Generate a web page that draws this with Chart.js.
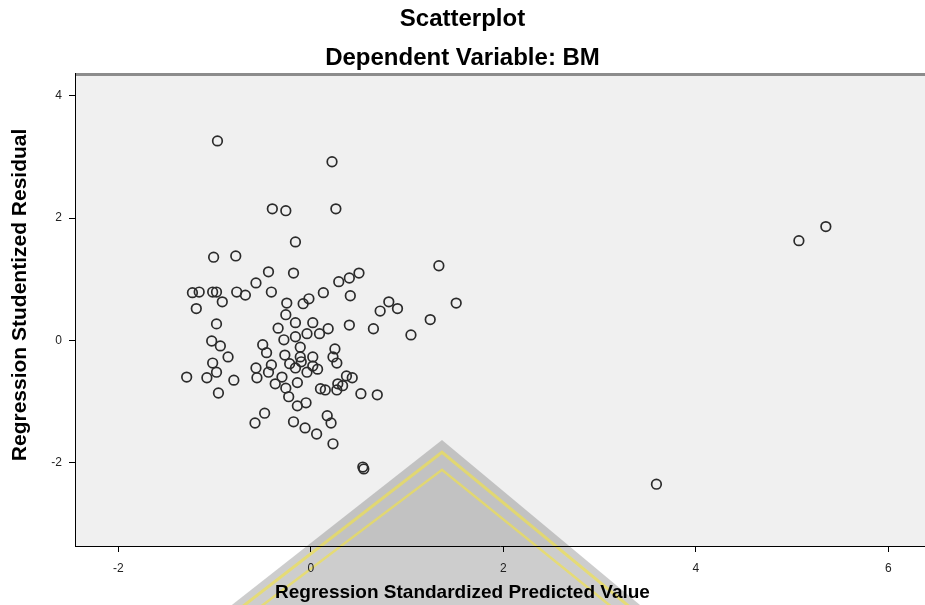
<!DOCTYPE html>
<html>
<head>
<meta charset="utf-8">
<title>Scatterplot</title>
<script src="https://cdn.jsdelivr.net/npm/chart.js@4/dist/chart.umd.min.js"></script>
<style>
  html, body { margin: 0; padding: 0; background: #ffffff; }
  #wrap { width: 925px; height: 605px; position: relative; }
</style>
</head>
<body>
<div id="wrap"><canvas id="chart"></canvas></div>
<script>
// Regression standardized predicted values (x) and studentized residuals (y)
const predicted = [
  -0.97, 0.22, -0.40, -0.26, 0.26, -0.16, -1.01, -0.78, 1.33, 5.07,
  5.35, 3.59, 0.54, 0.55, -0.44, -0.18, 0.50, 0.40, 0.29, -0.57,
  -1.23, -1.16, -1.02, -0.98, -0.77, -0.68, -0.41, 0.13, 0.41, -0.02,
  -0.08, -0.25, -0.92, -1.19, 0.81, 0.72, 0.90, 1.51, -0.26, -0.98,
  -0.16, 0.02, -0.34, 0.18, 0.40, 0.65, 1.24, 1.04, -0.04, 0.09,
  -0.16, -0.28, -1.03, -0.50, -0.94, -0.86, -1.02, -0.98, -1.29, -1.08,
  -0.80, -0.96, -0.46, -0.27, -0.11, -0.11, 0.02, 0.25, 0.23, 0.27,
  -0.57, -0.56, -0.41, -0.44, -0.22, -0.16, -0.10, -0.04, 0.02, 0.07,
  -0.30, -0.37, -0.26, -0.14, 0.10, 0.15, 0.27, 0.28, 0.33, 0.37,
  0.43, 0.52, 0.69, -0.23, -0.14, -0.05, -0.48, -0.58, -0.18, -0.06,
  0.06, 0.17, 0.21, 0.23
];
const residuals = [
  3.26, 2.92, 2.15, 2.12, 2.15, 1.61, 1.36, 1.38, 1.22, 1.63,
  1.86, -2.35, -2.07, -2.10, 1.12, 1.10, 1.10, 1.02, 0.96, 0.94,
  0.78, 0.79, 0.79, 0.79, 0.79, 0.74, 0.79, 0.78, 0.73, 0.68,
  0.60, 0.61, 0.63, 0.52, 0.63, 0.48, 0.52, 0.61, 0.42, 0.27,
  0.29, 0.29, 0.20, 0.19, 0.25, 0.19, 0.34, 0.09, 0.11, 0.11,
  0.06, 0.01, -0.01, -0.07, -0.09, -0.27, -0.37, -0.52, -0.60, -0.61,
  -0.65, -0.86, -0.20, -0.24, -0.11, -0.27, -0.27, -0.14, -0.27, -0.37,
  -0.45, -0.61, -0.40, -0.52, -0.38, -0.45, -0.35, -0.52, -0.42, -0.47,
  -0.60, -0.71, -0.78, -0.69, -0.79, -0.81, -0.81, -0.71, -0.74, -0.58,
  -0.61, -0.87, -0.89, -0.92, -1.07, -1.02, -1.19, -1.35, -1.33, -1.43,
  -1.53, -1.23, -1.35, -1.69
];
const xTicks = [-2, 0, 2, 4, 6];
const yTicks = [-2, 0, 2, 4];

const titleLines = ['Scatterplot', 'Dependent Variable: BM'];
const xTitle = 'Regression Standardized Predicted Value';
const yTitle = 'Regression Studentized Residual';

const points = predicted.map((x, i) => ({ x: x, y: residuals[i] }));
const FONT = 'Liberation Sans, Arial, Helvetica, sans-serif';

// grey plotting frame, darker top rule and the faint badge stamped across the lower middle
const plotFrame = {
  id: 'plotFrame',
  beforeDraw(chart) {
    const { ctx, chartArea: a } = chart;
    ctx.save();
    ctx.fillStyle = '#f0f0f0';
    ctx.fillRect(a.left, a.top, a.right - a.left, a.bottom - a.top);
    ctx.strokeStyle = '#8c8c8c';
    ctx.lineWidth = 3;
    ctx.beginPath();
    ctx.moveTo(a.left, a.top + 1.5);
    ctx.lineTo(a.right, a.top + 1.5);
    ctx.stroke();

    // badge: grey peaked shape with two yellow inner outlines
    const apexX = 442, apexY = 440, leftX = 200, rightX = 670, baseY = 630;
    const shape = inset => {
      ctx.beginPath();
      ctx.moveTo(leftX + inset * 1.75, baseY);
      ctx.lineTo(apexX, apexY + inset * 1.75);
      ctx.lineTo(rightX - inset * 1.75, baseY);
    };
    shape(0);
    ctx.closePath();
    ctx.fillStyle = 'rgba(90, 90, 90, 0.30)';
    ctx.fill();
    ctx.lineWidth = 3;
    ctx.strokeStyle = 'rgba(245, 228, 60, 0.6)';
    shape(7); ctx.stroke();
    ctx.lineWidth = 2.5;
    shape(17); ctx.stroke();
    ctx.restore();
  }
};

const fixedTicks = values => scale => { scale.ticks = values.map(v => ({ value: v })); };

new Chart(document.getElementById('chart'), {
  type: 'scatter',
  data: {
    datasets: [{
      data: points,
      pointStyle: 'circle',
      pointRadius: 4.8,
      pointHoverRadius: 4.8,
      borderWidth: 1.7,
      borderColor: '#2b2b2b',
      backgroundColor: 'rgba(0,0,0,0)'
    }]
  },
  plugins: [plotFrame],
  options: {
    responsive: true,
    maintainAspectRatio: false,
    animation: false,
    events: [],
    layout: { padding: 0, autoPadding: false },
    plugins: {
      legend: { display: false },
      tooltip: { enabled: false },
      title: {
        display: true,
        text: titleLines,
        color: '#000',
        font: { family: FONT, size: 24, weight: 'bold', lineHeight: '39px' },
        padding: { top: 0, bottom: -5 }
      },
      subtitle: {
        display: true,
        position: 'bottom',
        text: xTitle,
        color: '#000',
        font: { family: FONT, size: 19, weight: 'bold', lineHeight: 1.2 },
        padding: { top: 0, bottom: 1 }
      }
    },
    scales: {
      x: {
        type: 'linear',
        min: -2.45,
        max: 6.38,
        afterBuildTicks: fixedTicks(xTicks),
        afterFit: s => { s.height = 35.2; s.paddingLeft = 0; s.paddingRight = 0; },
        ticks: { color: '#222', font: { family: FONT, size: 12 }, padding: 9, maxRotation: 0 },
        grid: { drawOnChartArea: false, drawTicks: true, tickLength: 6, color: '#000', lineWidth: 1 },
        border: { display: true, color: '#000', width: 1 }
      },
      y: {
        type: 'linear',
        min: -3.36,
        max: 4.37,
        afterBuildTicks: fixedTicks(yTicks),
        afterFit: s => { s.width = 75; s.paddingTop = 0; s.paddingBottom = 0; },
        ticks: { color: '#222', font: { family: FONT, size: 12 }, padding: 7 },
        grid: { drawOnChartArea: false, drawTicks: true, tickLength: 6, color: '#000', lineWidth: 1 },
        border: { display: true, color: '#000', width: 1 },
        title: {
          display: true,
          // leading spaces lift the label a little along the axis
          text: '\u00a0\u00a0\u00a0\u00a0\u00a0' + yTitle,
          color: '#000',
          font: { family: FONT, size: 21, weight: 'bold', lineHeight: 1.2 },
          padding: { top: 8, bottom: 0 }
        }
      }
    }
  }
});
</script>
</body>
</html>
